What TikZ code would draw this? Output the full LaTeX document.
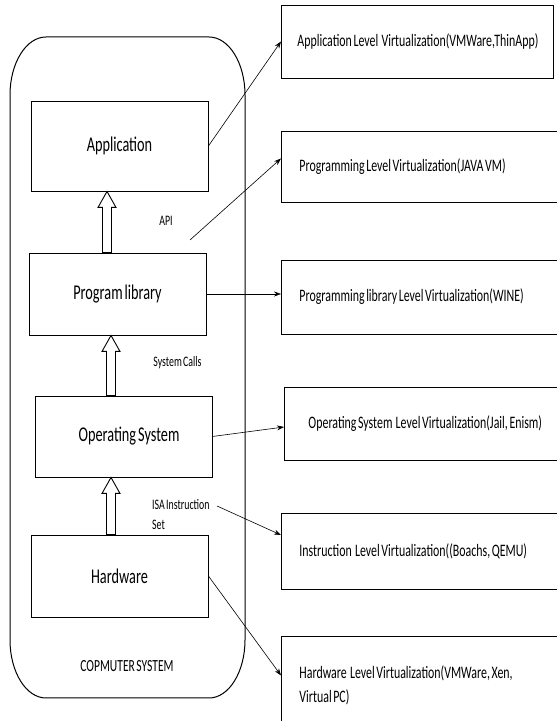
\documentclass[tikz,border=0pt]{standalone}
\usepackage{fontspec}
\setmainfont{Carlito}[FakeStretch=0.68,WordSpace=0.6]
\usetikzlibrary{calc,arrows.meta}

% plain word spaces, no hyphens
\newcommand{\plainspaces}{\spaceskip=\fontdimen2\font\relax\hyphenpenalty=10000\relax}

% hollow upward arrow between two stacked layers: x position, lower node, upper node
\newcommand{\hollowup}[3]{%
  \draw[hollow] let \p1=(#2.north), \p2=(#3.south) in
    (#1pt-4.5pt,\y1) -- (#1pt-4.5pt,\y2-16pt) -- (#1pt-9pt,\y2-16pt) -- (#1pt,\y2)
    -- (#1pt+9pt,\y2-16pt) -- (#1pt+4.5pt,\y2-16pt) -- (#1pt+4.5pt,\y1) -- cycle;}

\begin{document}
\begin{tikzpicture}[x=1pt,y=1pt,
  layer/.style={draw, line width=0.9pt, minimum width=177pt, inner sep=0pt,
    font=\fontsize{21}{25}\selectfont},
  virt/.style={draw, line width=0.9pt, anchor=west, align=left, inner xsep=18pt,
    text width=266pt, font=\fontsize{17.5}{24}\selectfont,
    execute at begin node=\plainspaces},
  tag/.style={inner sep=0pt, font=\fontsize{14.5}{20}\selectfont},
  conn/.style={line width=0.6pt, -{Stealth[length=7pt,width=5pt]}},
  hollow/.style={draw, line width=0.9pt, fill=white}]

\clip (0,0) rectangle (557,721);

% Sistema (contorno arrotondato)
\draw[line width=1pt] (10,81) -- (10,626)
  arc[start angle=180,end angle=90,x radius=36,y radius=58] -- (209,684)
  arc[start angle=90,end angle=0,x radius=36,y radius=58] -- (245,81)
  arc[start angle=0,end angle=-90,x radius=36,y radius=58] -- (46,23)
  arc[start angle=270,end angle=180,x radius=36,y radius=58] -- cycle;
\node[font=\fontsize{17}{20}\selectfont] (sysname) at (127,55) {COPMUTER SYSTEM};

% Livelli
\node[layer, minimum height=90pt] (app) at (119.5,575) {Application};
\node[layer, minimum height=82pt] (pl) at (117.5,427) {Program library\hspace{11pt}};
\node[layer, minimum height=81pt] (os) at (123.5,284.5) {\hspace{11pt}Operating System};
\node[layer, minimum height=82pt] (hw) at (119.5,145) {Hardware\hspace{35pt}};

\hollowup{107}{pl}{app}
\hollowup{111}{os}{pl}
\hollowup{111}{hw}{os}

% Interfacce
\node[tag] (api) at (166,500) {API};
\node[tag] (syscalls) at (177.5,358) {System Calls};
\node[tag, anchor=west, align=left] (isa) at (152,206) {ISA Instruction\\Set};

% Virtualizzazione
\node[virt, inner xsep=16pt, text width=240pt, minimum height=73pt] (r1) at (281,679.5)
  {\mbox{Application Level\ \ Virtualization(VMWare,ThinApp)}};
\node[virt, minimum height=71pt] (r2) at (281,554.5)
  {Programming Level Virtualization(JAVA VM)};
\node[virt, minimum height=74pt] (r3) at (281,424)
  {Programming library Level Virtualization(WINE)};
\node[virt, inner xsep=24pt, minimum height=73pt] (r4) at (284,297.5)
  {Operating System\ \ Level Virtualization(Jail, Enism)};
\node[virt, minimum height=76pt] (r5) at (281,170)
  {Instruction\ \ Level Virtualization((Boachs, QEMU)};
\node[virt, anchor=north west, minimum height=97pt] (r6) at (281,85)
  {Hardware\ \ Level Virtualization(VMWare, Xen,\\Virtual PC)};

% Frecce
\coordinate (apitail) at (190,481);
\coordinate (isatail) at (217,215);
\draw[conn] (app.east) -- (r1.west);
\draw[conn] (apitail) -- ([yshift=8pt]r2.west);
\draw[conn] (pl.east) -- (pl.east -| r3.west);
\draw[conn] (os.east) -- ([yshift=-3.5pt]r4.west);
\draw[conn] (isatail) -- ([yshift=16pt]r5.west);
\draw[conn] (hw.east) -- ([yshift=9.5pt]r6.west);

\end{tikzpicture}
\end{document}
